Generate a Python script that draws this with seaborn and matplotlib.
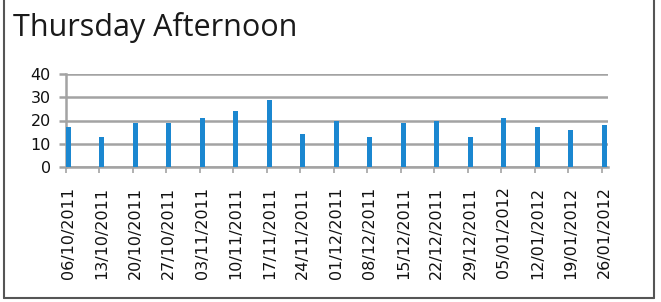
import pandas as pd
import seaborn as sns
import matplotlib
matplotlib.use("Agg")
import matplotlib.pyplot as plt
from matplotlib.lines import Line2D

# values
dates = ["06/10/2011", "13/10/2011", "20/10/2011", "27/10/2011", "03/11/2011",
         "10/11/2011", "17/11/2011", "24/11/2011", "01/12/2011", "08/12/2011",
         "15/12/2011", "22/12/2011", "29/12/2011", "05/01/2012", "12/01/2012",
         "19/01/2012", "26/01/2012"]
counts = [17, 13, 19, 19, 21, 24, 29, 14, 20, 13, 19, 20, 13, 21, 17, 16, 18]
yticks = [0, 10, 20, 30, 40]

sns.set_style("white")
plt.rcParams['font.family'] = ['DejaVu Sans']

df = pd.DataFrame({"date": dates, "count": counts})

fig = plt.figure(figsize=(6.61, 3.02), dpi=100)
ax = fig.add_axes([66/661, 1 - 167/302, (608 - 66)/661, (167 - 74)/302])

grid_col = "#a3a3a3"
sns.barplot(data=df, x="date", y="count", ax=ax, color="#1b87d0",
            width=0.14, saturation=1, linewidth=0, edgecolor="none")
for p in ax.patches:
    p.set_zorder(3)

ax.set_ylim(0, 40)
ax.set_xlim(-0.07, 16.11)
ax.set_yticks(yticks)
ax.set_yticklabels([str(v) for v in yticks], fontsize=11.5, color="#111111")
ax.yaxis.grid(True, color=grid_col, linewidth=1.8, zorder=1)
ax.set_axisbelow(True)

# tick labels centred on bars, tick marks at the left edge of each bar
ax.set_xticks(range(len(dates)))
ax.set_xticklabels(dates, rotation=90, fontsize=11.5, color="#111111")
ax.tick_params(axis="x", length=0, pad=14)
ax.set_xticks([i - 0.07 for i in range(len(dates))], minor=True)
ax.tick_params(axis="x", which="minor", length=4, width=1.2, color=grid_col)
ax.tick_params(axis="y", length=5, width=1.8, color=grid_col, pad=6)
ax.yaxis.set_tick_params(left=True)
ax.xaxis.set_tick_params(which="minor", bottom=True)

for side in ["top", "right"]:
    ax.spines[side].set_visible(False)
for side in ["left", "bottom"]:
    ax.spines[side].set_color(grid_col)
    ax.spines[side].set_linewidth(1.8)

ax.set_xlabel("")
ax.set_ylabel("")

fig.text(13/661, 1 - 36/302, "Thursday Afternoon", fontsize=22,
         family=["Open Sans", "DejaVu Sans"], color="#1a1a1a", va="baseline")

# open-top frame round the picture
bc = "#555555"
fig.add_artist(Line2D([4/661, 4/661], [4/302, 1], color=bc, lw=1.5, transform=fig.transFigure))
fig.add_artist(Line2D([654/661, 654/661], [4/302, 1], color=bc, lw=1.5, transform=fig.transFigure))
fig.add_artist(Line2D([4/661, 654/661], [4/302, 4/302], color=bc, lw=1.5, transform=fig.transFigure))

fig.savefig("out.png", dpi=100)
